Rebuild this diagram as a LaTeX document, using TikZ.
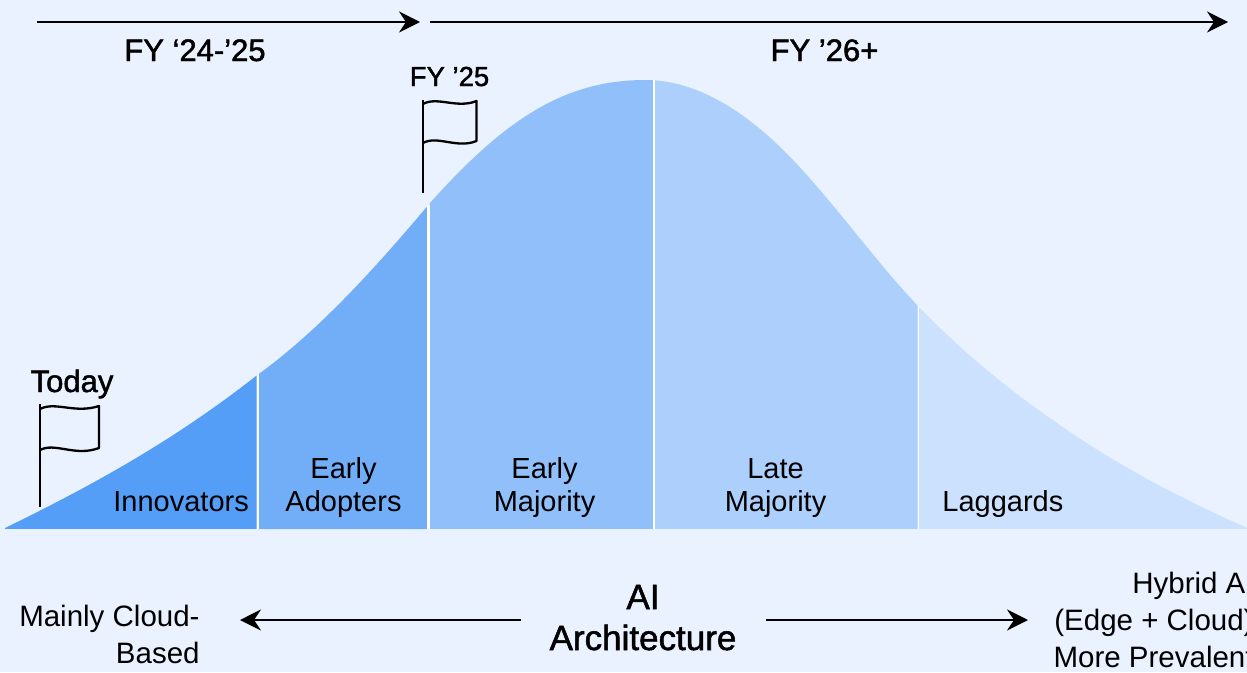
\documentclass[tikz,border=0pt]{standalone}
\usepackage{fontspec}
\setmainfont{Liberation Sans}
\newfontfamily\medfont[FakeBold=1.5]{Liberation Sans}
\usetikzlibrary{arrows.meta}

\definecolor{pagebg}{HTML}{EAF2FF}
\definecolor{innovblue}{HTML}{559EF8}
\definecolor{adoptblue}{HTML}{72ADF8}
\definecolor{earlyblue}{HTML}{90BFFA}
\definecolor{lateblue}{HTML}{ADCFFC}
\definecolor{lagblue}{HTML}{CBE1FD}

\def\bellcurve{(5,528) .. controls (89,487) and (172,442) .. (256,376) .. controls (316,333) and (372,272) .. (430,203) .. controls (505,119) and (565,80) .. (645,80) .. controls (700,80) and (750,115) .. (793,160) .. controls (835,204) and (876,262) .. (918,306) .. controls (968,358) and (1017,396) .. (1067,430) .. controls (1127,471) and (1187,501) .. (1247,528) -- (1247,529) -- (5,529) -- cycle}

\begin{document}
\begin{tikzpicture}[x=1pt,y=-1pt,>={Stealth[length=21pt,width=21pt,inset=7pt]},thick,
    label node/.style={inner sep=0pt,font=\fontsize{29}{33}\selectfont,text=black},
    side node/.style={label node,align=right,anchor=base east,font=\fontsize{29.5}{37}\selectfont},
    head node/.style={inner sep=0pt,anchor=base,font=\fontsize{31}{36}\medfont},
    axis arrow/.style={->,line width=2pt,black},
    flag line/.style={line width=2.3pt,black},
    gap line/.style={white}]

    \useasboundingbox (0,0) rectangle (1247,672);
    \fill[pagebg] (0,0) rectangle (1247,672);
    \clip (0,0) rectangle (1247,672);

    % curve, one slice at a time
    \begin{scope}
        \clip (0,0) rectangle (256.5,528.5);
        \fill[innovblue] \bellcurve;
    \end{scope}
    \begin{scope}
        \clip (259,0) rectangle (427,529);
        \fill[adoptblue] \bellcurve;
    \end{scope}
    \begin{scope}
        \clip (429.5,0) rectangle (653,528.5);
        \fill[earlyblue] \bellcurve;
    \end{scope}
    \begin{scope}
        \clip (655,0) rectangle (917.5,528.5);
        \fill[lateblue] \bellcurve;
    \end{scope}
    \begin{scope}
        \clip (918.5,0) rectangle (1247,528.5);
        \fill[lagblue] \bellcurve;
    \end{scope}

    % white gaps between the slices
    \draw[gap line,line width=2.5pt] (257.75,375) -- (257.75,529);
    \draw[gap line,line width=2.5pt] (428.25,205) -- (428.25,529);
    \draw[gap line,line width=2pt] (654,80) -- (654,528.5);
    \draw[gap line,line width=1pt] (918,306) -- (918,528.5);

    \node[label node,anchor=base west] (innov) at (113,511) {Innovators};
    \node[label node,anchor=base,align=center] (adopt) at (343.5,511) {Early\\Adopters};
    \node[label node,anchor=base,align=center] (early) at (544.5,511) {Early\\Majority};
    \node[label node,anchor=base,align=center] (late) at (775.5,511) {Late\\Majority};
    \node[label node,anchor=base west] (lag) at (942,511) {Laggards};

    % timeline on top
    \coordinate (t1) at (37,22);
    \coordinate (t2) at (420,22);
    \coordinate (t3) at (430,22);
    \coordinate (t4) at (1228,22);
    \draw[axis arrow] (t1) to (t2);
    \draw[axis arrow] (t3) to (t4);
    \node[head node] (fy1) at (195,61) {FY ‘24-’25};
    \node[head node] (fy2) at (824.5,61) {FY ’26+};

    % flags
    \node[head node,font=\fontsize{31}{36}\medfont] (today) at (72,392) {Today};
    \draw[flag line] (40,404) -- (40,507);
    \draw[flag line,line join=round] (40,409) .. controls (55,401) and (75,414) .. (99,406) -- (99,448) .. controls (75,457) and (55,442) .. (40,450);

    \node[head node,font=\fontsize{27.5}{32}\medfont] (fy3) at (449.5,86) {FY ’25};
    \draw[flag line] (423,100) -- (423,193);
    \draw[flag line,line join=round] (423,104) .. controls (437,96) and (457,109) .. (476.5,101) -- (476.5,141) .. controls (457,149) and (437,135) .. (423,143);

    % bottom axis
    \node[head node,align=center,font=\fontsize{35}{41}\medfont] (arch) at (643,650) {AI\\Architecture};
    \node[side node] (cloud) at (200,663) {Mainly Cloud-\\Based};
    \node[side node] (hybrid) at (1254,667) {Hybrid AI\\(Edge + Cloud)\\More Prevalent};
    \coordinate (a1) at (521,620);
    \coordinate (a2) at (240,620);
    \coordinate (a3) at (766,620);
    \coordinate (a4) at (1028,620);
    \draw[axis arrow] (a1) to (a2);
    \draw[axis arrow] (a3) to (a4);
\end{tikzpicture}
\end{document}
